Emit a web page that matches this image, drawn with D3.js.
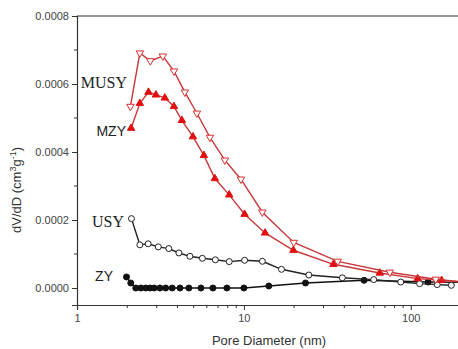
<!DOCTYPE html>
<html>
<head>
<meta charset="utf-8">
<script src="https://cdn.jsdelivr.net/npm/d3@7"></script>
<style>
  body { margin: 0; background: #fff; }
  svg { display: block; }
</style>
</head>
<body>
<div id="chart"></div>
<script>
// pore diameter (nm) and dV/dD (cm3/g)
const musyX = [2.09, 2.38, 2.75, 3.27, 3.81, 4.43, 5.23, 6.26, 7.69, 9.6, 12.9, 19.9, 36.5, 74.9, 141, 230];
const musyY = [0.000534, 0.000691, 0.000668, 0.000682, 0.000638, 0.000576, 0.000514, 0.000443, 0.000376, 0.000320, 0.000223, 0.000134, 0.0000785, 0.0000462, 0.0000256, 0.000015];

const mzyX = [2.11, 2.38, 2.68, 2.97, 3.36, 3.81, 4.25, 4.95, 5.76, 6.70, 8.17, 10.1, 13.4, 19.8, 34.4, 65.2, 110, 153, 230];
const mzyY = [0.000470, 0.000543, 0.000576, 0.000568, 0.000559, 0.000534, 0.000493, 0.000445, 0.000390, 0.000322, 0.000274, 0.000217, 0.000162, 0.000111, 0.0000697, 0.0000441, 0.0000276, 0.0000226, 0.000015];

const usyX = [2.12, 2.38, 2.67, 3.07, 3.55, 4.08, 4.75, 5.64, 6.75, 8.17, 10.1, 12.9, 16.8, 24.5, 38.9, 60.0, 87.1, 113, 144, 175];
const usyY = [0.000204, 0.000127, 0.000130, 0.000121, 0.000116, 0.000103, 0.0000932, 0.0000874, 0.0000829, 0.0000776, 0.0000815, 0.0000785, 0.0000550, 0.0000382, 0.0000300, 0.0000247, 0.0000176, 0.0000129, 0.0000100, 0.0000079];

const zyX = [1.98, 2.10, 2.25, 2.41, 2.58, 2.74, 2.90, 3.14, 3.40, 3.72, 4.14, 4.68, 5.53, 6.52, 7.91, 10.0, 14.1, 23.4, 52.5, 127, 230];
const zyY = [0.0000324, 0.0000147, 0, 0, 0, 0, 0, 0, 0, 0, 0, 0, 0, 0, 0, 0, 0.0000059, 0.0000147, 0.0000226, 0.0000176, 0.000016];

const yTicks = [0, 0.0002, 0.0004, 0.0006, 0.0008];
const xTicks = [1, 10, 100];

const W = 458, H = 349;
const margin = { top: 16, left: 77 };
const width = 384, height = 289;

const svg = d3.select('#chart').append('svg')
  .attr('width', W).attr('height', H);

const g = svg.append('g').attr('transform', `translate(${margin.left},${margin.top})`);

const x = d3.scaleLog().domain([1, 200]).range([0, width]);
const y = d3.scaleLinear().domain([-0.00005, 0.0008]).range([height, 0]);

const axisColor = '#333';
const font = "'Liberation Sans', Arial, sans-serif";

// top frame line
g.append('line').attr('x1', 0).attr('x2', width).attr('y1', 0).attr('y2', 0)
  .attr('stroke', axisColor).attr('stroke-width', 1.2);

// x axis with minor ticks
const xMinor = [];
[1, 10, 100].forEach(d => { for (let k = 2; k <= 9; k++) if (d * k <= 200) xMinor.push(d * k); });
const xAxis = g.append('g').attr('transform', `translate(0,${height})`);
xAxis.call(d3.axisBottom(x).tickValues(xTicks).tickFormat(d3.format('d')).tickSize(5).tickPadding(4));
xAxis.selectAll('.minor').data(xMinor).enter().append('line')
  .attr('x1', d => x(d)).attr('x2', d => x(d)).attr('y1', 0).attr('y2', 3)
  .attr('stroke', axisColor);

// y axis with minor ticks
const yAxis = g.append('g');
yAxis.call(d3.axisLeft(y).tickValues(yTicks).tickFormat(d3.format('.4f')).tickSize(5).tickPadding(3));
yAxis.selectAll('.minor').data([0.0001, 0.0003, 0.0005, 0.0007]).enter().append('line')
  .attr('x1', -3).attr('x2', 0).attr('y1', d => y(d)).attr('y2', d => y(d))
  .attr('stroke', axisColor);

[xAxis, yAxis].forEach(a => {
  a.select('.domain').attr('stroke', axisColor).attr('stroke-width', 1.2);
  a.selectAll('.tick line').attr('stroke', axisColor);
  a.selectAll('text').attr('fill', '#444').style('font-family', font).style('font-size', '11px');
});

// axis titles
svg.append('text')
  .attr('x', 269).attr('y', 345)
  .attr('text-anchor', 'middle')
  .style('font-family', font).style('font-size', '13px').attr('fill', '#333')
  .text('Pore Diameter (nm)');

const yt = svg.append('text')
  .attr('transform', 'translate(21,190) rotate(-90)')
  .attr('text-anchor', 'middle')
  .style('font-family', font).style('font-size', '13px').attr('fill', '#333');
yt.append('tspan').text('dV/dD (cm');
yt.append('tspan').attr('dy', -5).style('font-size', '9px').text('3');
yt.append('tspan').attr('dy', 5).text('g');
yt.append('tspan').attr('dy', -5).style('font-size', '9px').text('-1');
yt.append('tspan').attr('dy', 5).text(')');

// clip
svg.append('defs').append('clipPath').attr('id', 'clip')
  .append('rect').attr('x', 0).attr('y', 0).attr('width', width).attr('height', height);
const plot = g.append('g').attr('clip-path', 'url(#clip)');

const series = [
  { name: 'ZY', xs: zyX, ys: zyY, line: '#111', stroke: '#111', fill: '#111', shape: 'circle' },
  { name: 'USY', xs: usyX, ys: usyY, line: '#222', stroke: '#222', fill: '#fff', shape: 'circle' },
  { name: 'MZY', xs: mzyX, ys: mzyY, line: '#c8383a', stroke: '#e01010', fill: '#e01010', shape: 'up' },
  { name: 'MUSY', xs: musyX, ys: musyY, line: '#c8383a', stroke: '#d83030', fill: '#fff', shape: 'down' }
];

const line = d3.line().x(d => x(d[0])).y(d => y(d[1]));

series.forEach(s => {
  const pts = s.xs.map((v, i) => [v, s.ys[i]]);
  plot.append('path').datum(pts)
    .attr('fill', 'none').attr('stroke', s.line).attr('stroke-width', 1.4)
    .attr('d', line);
  const tri = d3.symbol().type(d3.symbolTriangle).size(24);
  const m = plot.selectAll(null).data(pts).enter();
  if (s.shape === 'circle') {
    m.append('circle')
      .attr('cx', d => x(d[0])).attr('cy', d => y(d[1])).attr('r', 3)
      .attr('fill', s.fill).attr('stroke', s.stroke).attr('stroke-width', 1);
  } else {
    m.append('path')
      .attr('d', tri)
      .attr('transform', d => `translate(${x(d[0])},${y(d[1])})${s.shape === 'down' ? ' rotate(180)' : ''}`)
      .attr('fill', s.fill).attr('stroke', s.stroke).attr('stroke-width', 1);
  }
});

// curve labels
const serif = "'Liberation Serif', 'Times New Roman', serif";
const labels = [
  { text: 'MUSY', px: 127, py: 0.000604, f: serif, size: 16 },
  { text: 'MZY', px: 126, py: 0.000462, f: font, size: 14 },
  { text: 'USY', px: 124, py: 0.000197, f: serif, size: 16 },
  { text: 'ZY', px: 113, py: 0.0000343, f: font, size: 14 }
];
labels.forEach(l => {
  svg.append('text')
    .attr('x', l.px).attr('y', margin.top + y(l.py) + l.size * 0.35)
    .attr('text-anchor', 'end')
    .style('font-family', l.f).style('font-size', l.size + 'px').attr('fill', '#222')
    .text(l.text);
});
</script>
</body>
</html>
